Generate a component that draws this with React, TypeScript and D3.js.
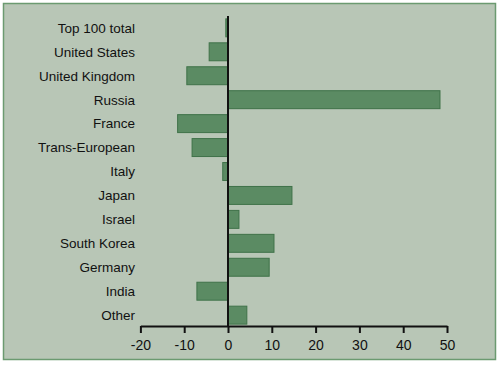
import React, { useRef, useEffect } from 'react';
import * as d3 from 'd3';

const categories = [
  'Top 100 total', 'United States', 'United Kingdom', 'Russia', 'France',
  'Trans-European', 'Italy', 'Japan', 'Israel', 'South Korea', 'Germany', 'India', 'Other',
];
const changes = [-0.5, -4.3, -9.4, 48.4, -11.5, -8.2, -1.2, 14.6, 2.5, 10.5, 9.4, -7.1, 4.3];
const xTicks = [-20, -10, 0, 10, 20, 30, 40, 50];

export default function App() {
  const ref = useRef<SVGSVGElement>(null);

  useEffect(() => {
    const svg = d3.select(ref.current);
    svg.selectAll('*').remove();

    const width = 500, height = 366;
    const font = '"Liberation Sans", Arial, sans-serif';

    // panel
    svg.append('rect').attr('width', width).attr('height', height).attr('fill', '#ffffff');
    svg.append('rect')
      .attr('x', 3.5).attr('y', 3.5).attr('width', 492).attr('height', 356)
      .attr('fill', '#b8c6b6').attr('stroke', '#6b9a70').attr('stroke-width', 1.5);

    const x = d3.scaleLinear().domain([-20, 50]).range([140.4, 447]);
    const y = d3.scaleBand().domain(categories).range([16, 327]).paddingInner(0.25).paddingOuter(0.12);
    const axisY = 326;

    const data = categories.map((c, i) => ({ c, v: changes[i] }));

    svg.selectAll('.bar')
      .data(data)
      .enter()
      .append('rect')
      .attr('x', d => x(Math.min(0, d.v)))
      .attr('y', d => y(d.c)!)
      .attr('width', d => Math.abs(x(d.v) - x(0)))
      .attr('height', y.bandwidth())
      .attr('fill', '#5b8b63')
      .attr('stroke', '#3f7249')
      .attr('stroke-width', 1);

    svg.selectAll('.label')
      .data(data)
      .enter()
      .append('text')
      .text(d => d.c)
      .attr('x', 135)
      .attr('y', d => y(d.c)! + y.bandwidth() / 2)
      .attr('dy', '0.36em')
      .attr('text-anchor', 'end')
      .attr('fill', '#111')
      .style('font-family', font)
      .style('font-size', '13.5px');

    // zero line
    svg.append('line')
      .attr('x1', x(0)).attr('x2', x(0))
      .attr('y1', 16).attr('y2', axisY)
      .attr('stroke', '#111').attr('stroke-width', 2);

    const axis = svg.append('g')
      .attr('transform', `translate(0,${axisY})`)
      .call(d3.axisBottom(x).tickValues(xTicks).tickFormat(d => String(d)).tickSize(7).tickSizeOuter(0).tickPadding(7));
    axis.select('.domain').attr('stroke', '#111').attr('stroke-width', 2);
    axis.selectAll('.tick line').attr('stroke', '#111').attr('stroke-width', 2);
    axis.selectAll('text')
      .attr('fill', '#111')
      .style('font-family', font)
      .style('font-size', '14px');
  }, []);

  return (
    <svg ref={ref} width={500} height={366} style={{ position: 'absolute', left: 0, top: 0 }} />
  );
}
